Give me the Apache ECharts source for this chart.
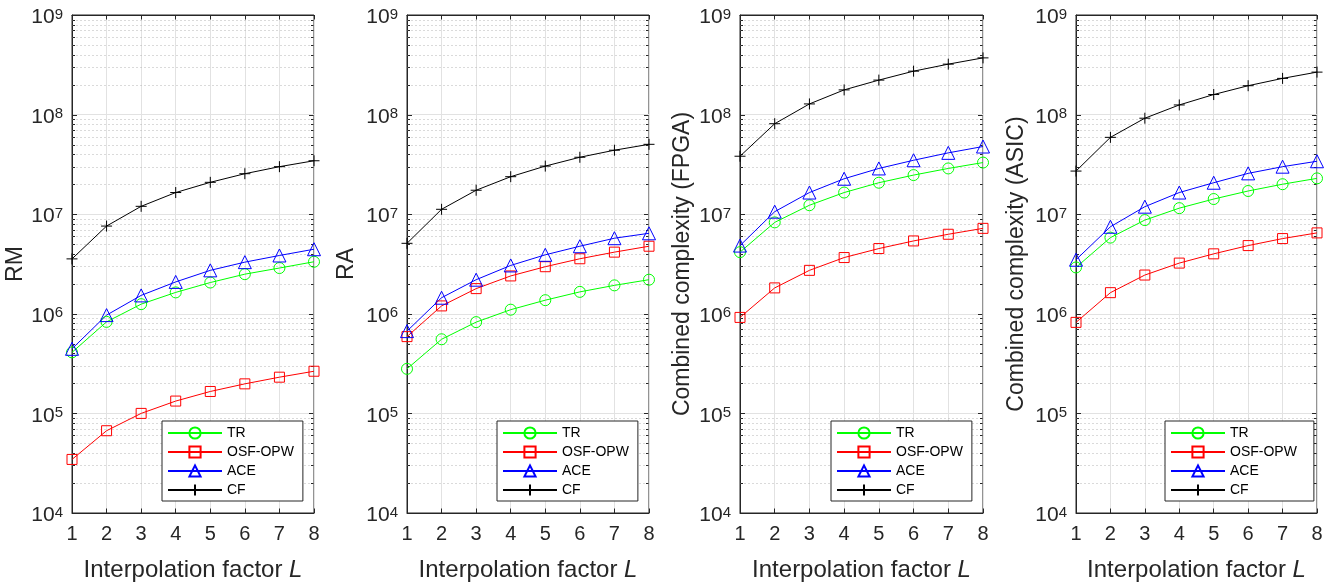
<!DOCTYPE html>
<html>
<head>
<meta charset="utf-8">
<script src="https://cdn.jsdelivr.net/npm/echarts@6/dist/echarts.min.js"></script>
<style>
html,body{margin:0;padding:0;background:#fff;}
#chart{width:1336px;height:587px;}
</style>
</head>
<body>
<div id="chart"></div>
<script>
// ---- data ----
const factorL = [1, 2, 3, 4, 5, 6, 7, 8];
const seriesNames = ['TR', 'OSF-OPW', 'ACE', 'CF'];
const panelTitles = ['RM', 'RA', 'Combined complexity (FPGA)', 'Combined complexity (ASIC)'];
const yTickExponents = [4, 5, 6, 7, 8, 9];

const rmTR  = [4.1e5, 8.3e5, 1.25e6, 1.64e6, 2.06e6, 2.5e6, 2.88e6, 3.33e6];
const rmOSF = [3.45e4, 6.7e4, 1.0e5, 1.33e5, 1.66e5, 1.98e5, 2.31e5, 2.65e5];
const rmACE = [4.45e5, 9.7e5, 1.53e6, 2.09e6, 2.73e6, 3.3e6, 3.85e6, 4.45e6];
const rmCF  = [3.56e6, 7.6e6, 1.2e7, 1.65e7, 2.09e7, 2.55e7, 3.0e7, 3.44e7];

const raTR  = [2.8e5, 5.55e5, 8.25e5, 1.1e6, 1.37e6, 1.66e6, 1.93e6, 2.2e6];
const raOSF = [5.9e5, 1.2e6, 1.79e6, 2.4e6, 2.97e6, 3.57e6, 4.16e6, 4.77e6];
const raACE = [6.7e5, 1.45e6, 2.2e6, 3.06e6, 3.91e6, 4.77e6, 5.74e6, 6.43e6];
const raCF  = [5.1e6, 1.12e7, 1.74e7, 2.38e7, 3.04e7, 3.73e7, 4.39e7, 5.03e7];

const fpgaTR  = [4.16e6, 8.28e6, 1.23e7, 1.65e7, 2.07e7, 2.47e7, 2.88e7, 3.3e7];
const fpgaOSF = [9.2e5, 1.82e6, 2.73e6, 3.67e6, 4.52e6, 5.39e6, 6.29e6, 7.21e6];
const fpgaACE = [4.84e6, 1.06e7, 1.65e7, 2.27e7, 2.88e7, 3.48e7, 4.13e7, 4.78e7];
const fpgaCF  = [3.82e7, 8.1e7, 1.28e8, 1.77e8, 2.22e8, 2.73e8, 3.21e8, 3.71e8];

const asicTR  = [2.92e6, 5.82e6, 8.73e6, 1.15e7, 1.42e7, 1.71e7, 2.0e7, 2.29e7];
const asicOSF = [8.2e5, 1.63e6, 2.45e6, 3.23e6, 4.0e6, 4.84e6, 5.69e6, 6.49e6];
const asicACE = [3.49e6, 7.48e6, 1.19e7, 1.65e7, 2.07e7, 2.57e7, 3.0e7, 3.4e7];
const asicCF  = [2.71e7, 5.91e7, 9.2e7, 1.25e8, 1.59e8, 1.95e8, 2.31e8, 2.67e8];

const panelData = [
  [rmTR, rmOSF, rmACE, rmCF],
  [raTR, raOSF, raACE, raCF],
  [fpgaTR, fpgaOSF, fpgaACE, fpgaCF],
  [asicTR, asicOSF, asicACE, asicCF]
];

// ---- styling / layout ----
const FONT = 'Liberation Sans, Arial, Helvetica, sans-serif';
const TXT = '#262626';
const colors = ['#00ff00', '#ff0000', '#0000ff', '#000000'];
const plusPath = 'path://M5,0L5,10M0,5L10,5';
const symbols = ['circle', 'rect', 'triangle', plusPath];
const symbolSizes = [11, 10, 13, 11];

const grids = [
  {left: 72,   top: 15, width: 242, height: 501},
  {left: 407,  top: 15, width: 242, height: 501},
  {left: 740,  top: 15, width: 243, height: 501},
  {left: 1076, top: 15, width: 241, height: 501}
];
const yNameGaps = [34, 49, 46, 48];
const legendBoxes = [
  {left: 162,  top: 421, padR: 9},
  {left: 497,  top: 421, padR: 9},
  {left: 831,  top: 421, padR: 9},
  {left: 1165, top: 421, padR: 17}
];

// y tick values (major + minor) for the log axis decoration
const yTicks = [];
for (let e = yTickExponents[0]; e <= yTickExponents[yTickExponents.length - 1]; e++) {
  const base = Math.pow(10, e);
  yTicks.push([1, base, 1]);
  if (e < yTickExponents[yTickExponents.length - 1]) {
    for (let m = 2; m <= 9; m++) yTicks.push([1, m * base, 0]);
  }
}

function renderYTicks(params, api) {
  const v = api.value(1);
  const major = api.value(2) === 1;
  const pL = api.coord([1, v]);
  const pR = api.coord([8, v]);
  const y = Math.round(pL[1]) + 0.5;
  const xl = Math.round(pL[0]) + 0.5;
  const xr = Math.round(pR[0]) - 0.5;
  const len = major ? 4.5 : 2.5;
  const children = [];
  if (!major) {
    children.push({type: 'line', shape: {x1: xl, y1: y, x2: xr, y2: y},
      style: {stroke: '#b4b4b4', lineWidth: 1, lineDash: [1, 3]}});
  }
  children.push({type: 'line', shape: {x1: xl, y1: y, x2: xl + len, y2: y}, style: {stroke: TXT, lineWidth: 1}});
  children.push({type: 'line', shape: {x1: xr - len, y1: y, x2: xr, y2: y}, style: {stroke: TXT, lineWidth: 1}});
  return {type: 'group', children: children};
}

const option = {
  animation: false,
  backgroundColor: '#fff',
  textStyle: {fontFamily: FONT},
  grid: grids.map(g => Object.assign({show: true, borderColor: TXT, borderWidth: 1, backgroundColor: 'transparent'}, g)),
  xAxis: [],
  yAxis: [],
  legend: [],
  series: []
};

for (let i = 0; i < 4; i++) {
  option.xAxis.push({
    type: 'value', gridIndex: i, min: 1, max: 8, interval: 1,
    name: 'Interpolation factor {i|L}', nameLocation: 'middle', nameGap: 45,
    nameTextStyle: {fontFamily: FONT, fontSize: 24, color: TXT,
      rich: {i: {fontFamily: FONT, fontSize: 24, fontStyle: 'italic', color: TXT}}},
    axisLine: {show: true, lineStyle: {color: TXT, width: 1}},
    axisTick: {show: true, inside: true, length: 4.5, lineStyle: {color: TXT}},
    axisLabel: {show: true, margin: 11, fontFamily: FONT, fontSize: 20, color: TXT},
    splitLine: {show: true, lineStyle: {color: '#e2e2e2', width: 1}}
  });
}
for (let i = 0; i < 4; i++) {
  option.xAxis.push({
    type: 'value', gridIndex: i, min: 1, max: 8, interval: 1, position: 'top',
    axisLine: {show: true, lineStyle: {color: TXT, width: 1}},
    axisTick: {show: true, inside: true, length: 4.5, lineStyle: {color: TXT}},
    axisLabel: {show: false},
    splitLine: {show: false}
  });
}
for (let i = 0; i < 4; i++) {
  option.yAxis.push({
    type: 'log', logBase: 10, gridIndex: i, min: 1e4, max: 1e9, splitNumber: 5,
    name: panelTitles[i], nameLocation: 'middle', nameGap: yNameGaps[i],
    nameTextStyle: {fontFamily: FONT, fontSize: 23, color: TXT},
    axisLine: {show: true, lineStyle: {color: TXT, width: 1}},
    axisTick: {show: false},
    axisLabel: {
      show: true, margin: 9, padding: [5, 0, 0, 0],
      formatter: function (v) { return '{b|10}{s|' + Math.round(Math.log10(v)) + '}'; },
      rich: {
        b: {fontFamily: FONT, fontSize: 21, color: TXT, lineHeight: 21, verticalAlign: 'bottom'},
        s: {fontFamily: FONT, fontSize: 15, color: TXT, lineHeight: 15, verticalAlign: 'top', padding: [0, 0, 16, 0]}
      }
    },
    splitLine: {show: true, lineStyle: {color: '#e2e2e2', width: 1}}
  });

  option.series.push({
    type: 'custom', name: 'ticks' + i, xAxisIndex: i, yAxisIndex: i,
    data: yTicks, renderItem: renderYTicks, silent: true, z: 1, clip: false
  });

  for (let s = 0; s < 4; s++) {
    option.series.push({
      type: 'line', name: seriesNames[s], xAxisIndex: i, yAxisIndex: i,
      data: factorL.map((x, k) => [x, panelData[i][s][k]]),
      symbol: symbols[s], symbolSize: symbolSizes[s], showAllSymbol: true,
      clip: false, z: 3,
      lineStyle: {color: colors[s], width: 1},
      itemStyle: {color: 'rgba(255,255,255,0)', borderColor: colors[s], borderWidth: 1},
      emphasis: {disabled: true}
    });
  }

  const lb = legendBoxes[i];
  option.legend.push({
    data: seriesNames, orient: 'vertical', left: lb.left, top: lb.top,
    padding: [5, lb.padR, 4, 5], itemGap: 5, itemWidth: 54, itemHeight: 14,
    backgroundColor: '#fff', borderColor: TXT, borderWidth: 1, borderRadius: 0,
    selectedMode: false,
    textStyle: {fontFamily: FONT, fontSize: 14, color: '#000', lineHeight: 14}
  });
}

const chart = echarts.init(document.getElementById('chart'), null, {renderer: 'canvas'});
chart.setOption(option);
</script>
</body>
</html>
